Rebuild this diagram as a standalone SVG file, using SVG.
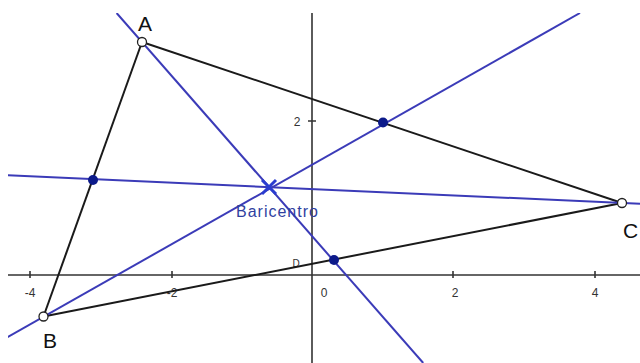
<svg xmlns="http://www.w3.org/2000/svg" width="640" height="363" viewBox="0 0 640 363">
<style>
.side{stroke:#1a1a1a;stroke-width:2;fill:none}
.med{stroke:#3b3bb8;stroke-width:2;fill:none}
.axis{stroke:#333;stroke-width:1.6;fill:none}
.tick{font-family:"Liberation Sans",Arial,sans-serif;font-size:12px;fill:#333}
.lbl{font-family:"Liberation Sans",Arial,sans-serif;font-size:21px;fill:#111}
.mid{fill:#0c1a8a}
.vtx{fill:#fff;stroke:#222;stroke-width:1.3}
</style>
<defs><clipPath id="view"><rect x="8" y="13" width="632" height="350"/></clipPath></defs>
<rect width="640" height="363" fill="#fff"/>
<g id="axes" clip-path="url(#view)">
<line class="axis" x1="0" y1="275" x2="640" y2="275"/>
<line class="axis" x1="312" y1="0" x2="312" y2="363"/>
<path class="axis" d="M30 271V278M172 271V278M453 271V278M595 271V278M308 121H316"/>
<text class="tick" x="30" y="297" text-anchor="middle">-4</text>
<text class="tick" x="172" y="297" text-anchor="middle">-2</text>
<text class="tick" x="324" y="297" text-anchor="middle">0</text>
<text class="tick" x="455" y="297" text-anchor="middle">2</text>
<text class="tick" x="595" y="297" text-anchor="middle">4</text>
<text class="tick" x="297" y="126" text-anchor="middle">2</text>
<text class="tick" x="296" y="267" text-anchor="middle" style="font-size:10px">D</text>
</g>
<g id="connectors" clip-path="url(#view)">
<line id="sideAB" class="side" x1="142" y1="42" x2="43.5" y2="316.5"/>
<line id="sideBC" class="side" x1="43.5" y1="316.5" x2="622" y2="203"/>
<line id="sideCA" class="side" x1="622" y1="203" x2="142" y2="42"/>
<line id="medianA" class="med" x1="116.6" y1="13" x2="423.2" y2="363"/>
<line id="medianB" class="med" x1="0" y1="341.4" x2="580" y2="13"/>
<line id="medianC" class="med" x1="0" y1="175" x2="640" y2="203.8"/>
</g>
<g id="midAB"><circle class="mid" cx="93" cy="180" r="5"/></g>
<g id="midAC"><circle class="mid" cx="383" cy="122.5" r="5"/></g>
<g id="midBC"><circle class="mid" cx="334" cy="260" r="5"/></g>
<g id="baricentro">
<path d="M262 180L276 194M276 180L262 194" stroke="#2a3cd0" stroke-width="3"/>
<text x="236" y="217" style="font-family:'Liberation Sans',Arial,sans-serif;font-size:16px;letter-spacing:1px;fill:#2f3f9f">Baricentro</text>
</g>
<g id="A"><circle class="vtx" cx="142" cy="42" r="4.5"/><text class="lbl" x="145" y="31" text-anchor="middle">A</text></g>
<g id="B"><circle class="vtx" cx="43.5" cy="316.5" r="4.5"/><text class="lbl" x="50" y="348" text-anchor="middle">B</text></g>
<g id="C"><circle class="vtx" cx="622" cy="203" r="4.5"/><text class="lbl" x="623" y="238">C</text></g>
</svg>
